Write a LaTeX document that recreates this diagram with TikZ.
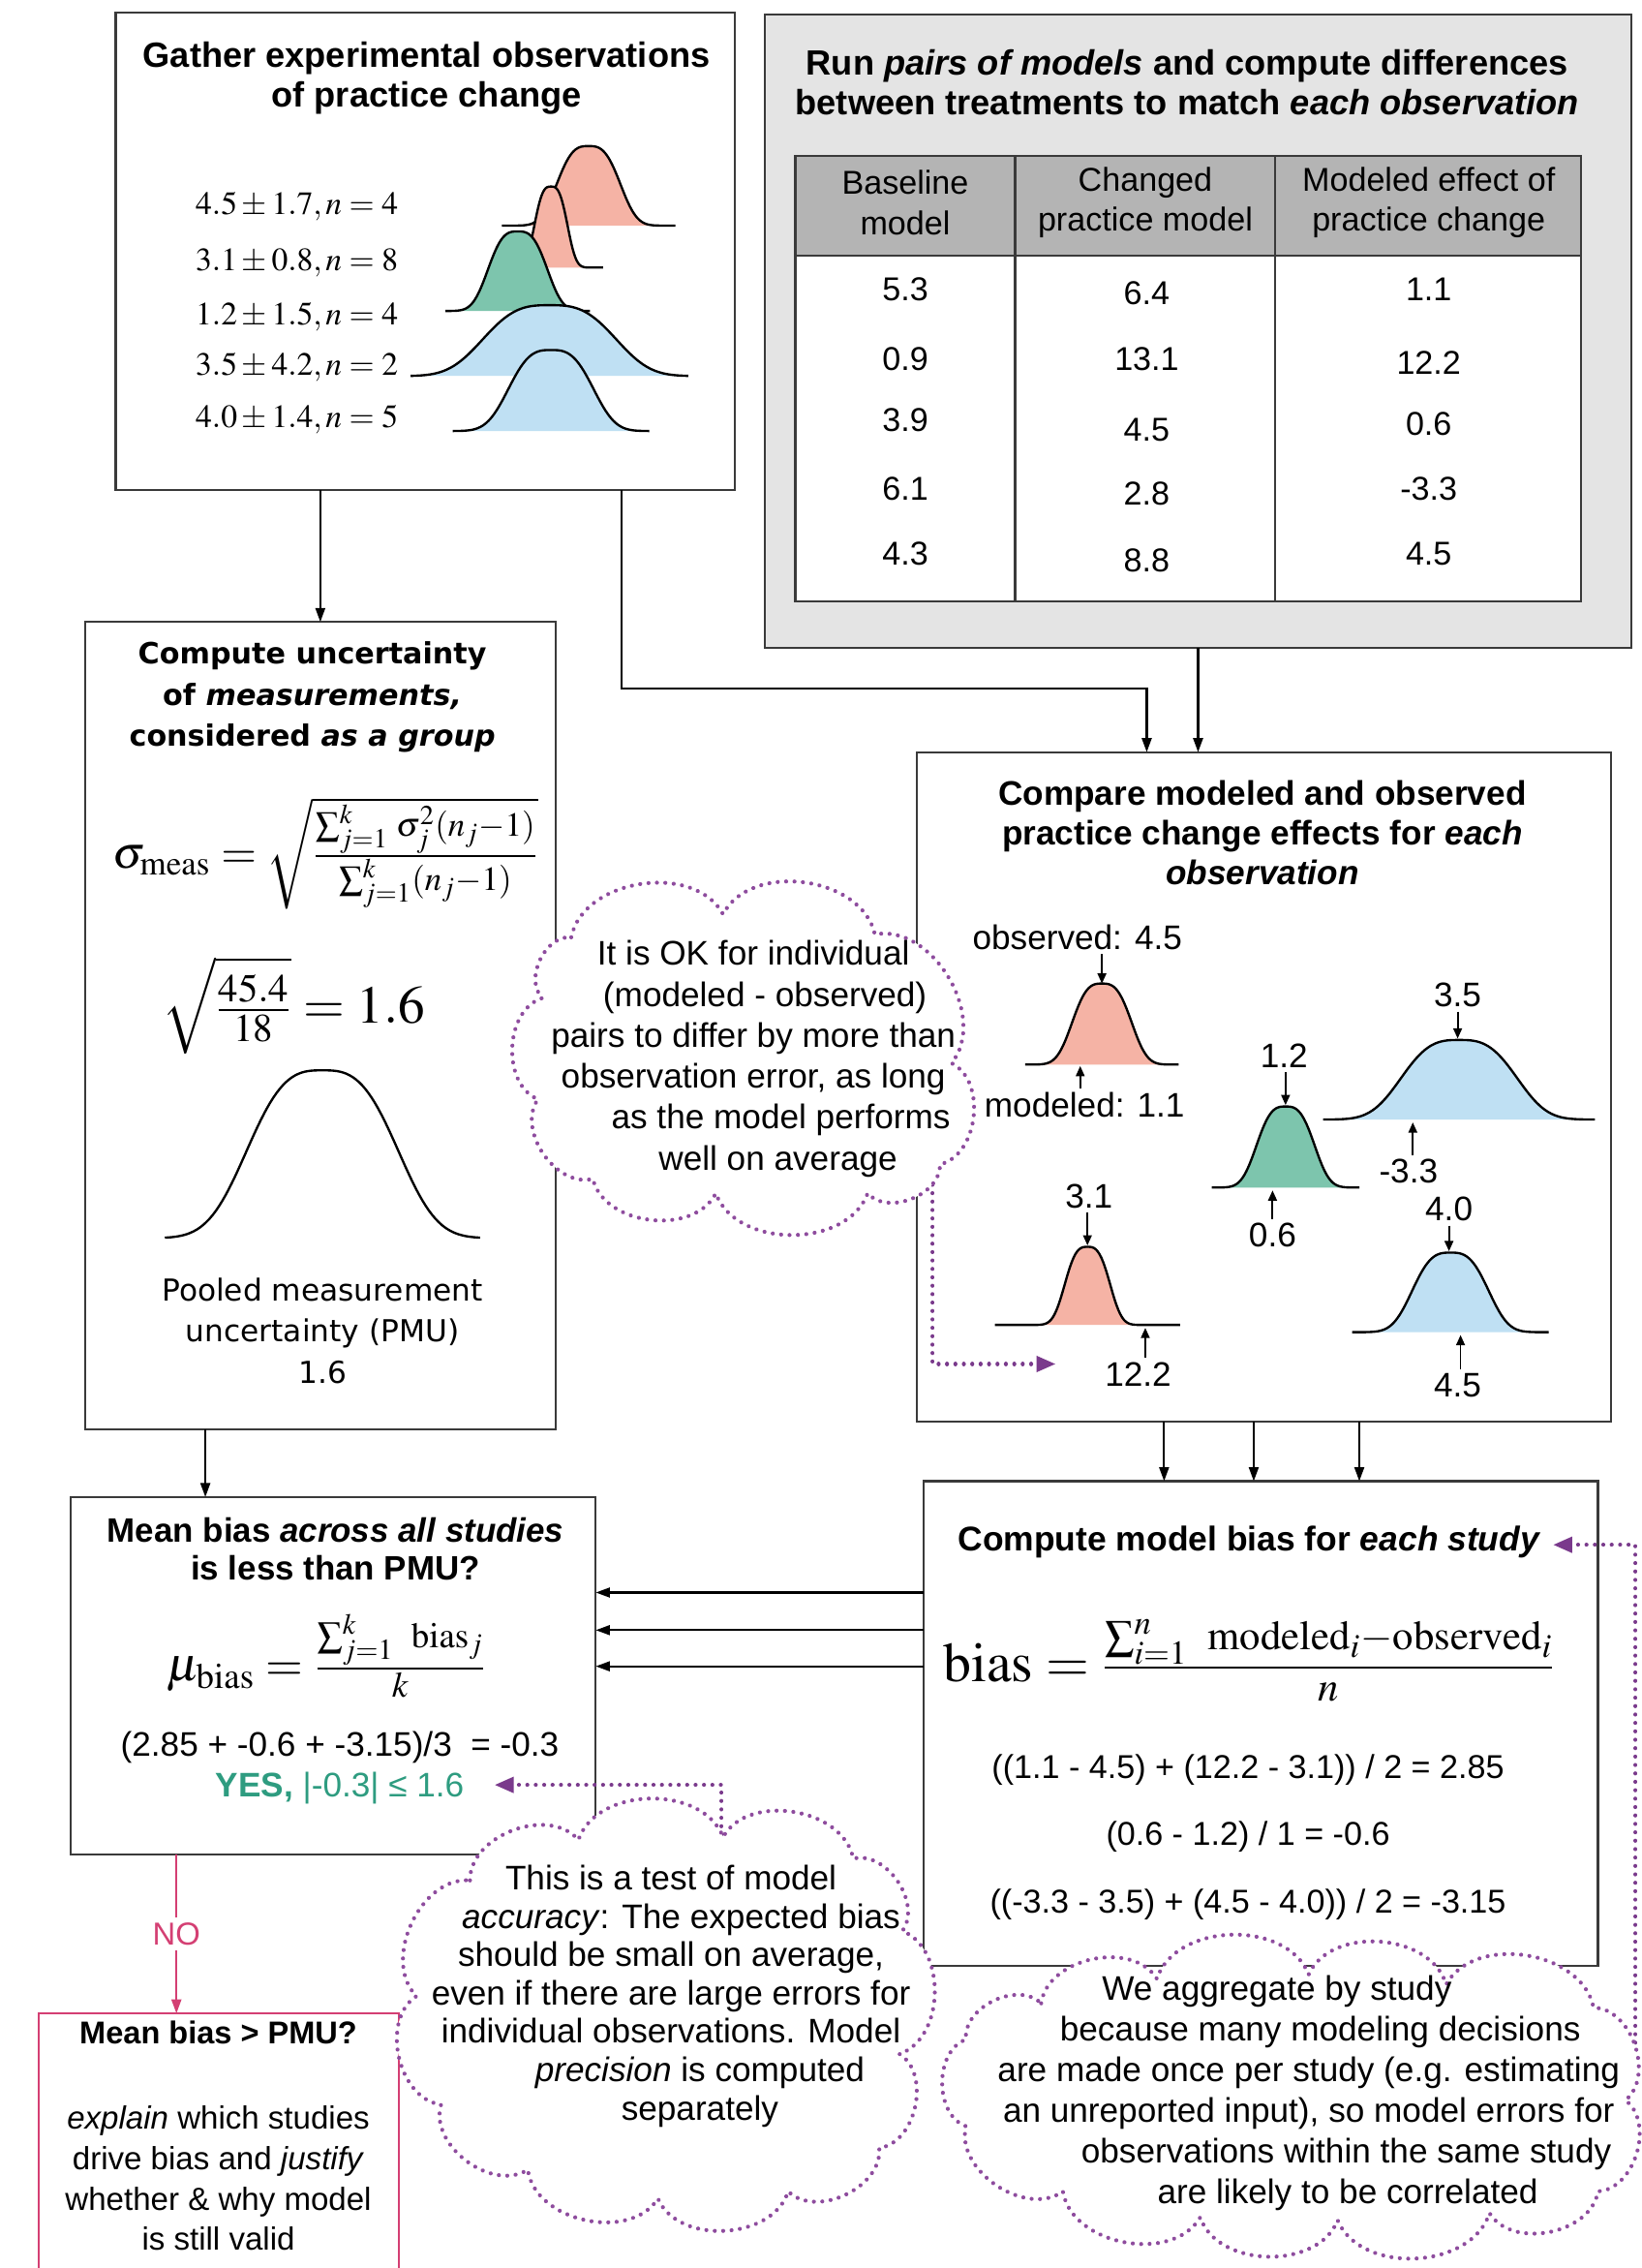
\documentclass[tikz,border=0pt]{standalone}
\usepackage{mathptmx}
\usepackage[no-math]{fontspec}
\setmainfont{Liberation Sans}
\newfontfamily\wideface{DejaVu Sans}
\usepackage{xcolor}
\usetikzlibrary{arrows.meta}
\definecolor{boxline}{HTML}{3A3A3A}
\definecolor{panelgray}{HTML}{E4E4E4}
\definecolor{headgray}{HTML}{B4B4B4}
\definecolor{obspink}{HTML}{F5B3A5}
\definecolor{obsgreen}{HTML}{7DC5AD}
\definecolor{obsblue}{HTML}{BFE0F3}
\definecolor{notepurple}{HTML}{8E4C9E}
\definecolor{tippurple}{HTML}{7A3A8C}
\definecolor{nored}{HTML}{D43F73}
\definecolor{yesgreen}{HTML}{2E9C80}
\tikzset{
  box/.style={draw=boxline,line width=0.8pt,inner sep=0pt,outer sep=0pt},
  heading/.style={font=\bfseries\fontsize{13.8}{15.6}\selectfont,align=center,inner sep=0pt},
  body/.style={font=\fontsize{13.4}{16.1}\selectfont,align=center,inner sep=0pt},
  cell/.style={font=\fontsize{13}{15.9}\selectfont,align=center,inner sep=0pt},
  reading/.style={font=\fontsize{13.4}{16}\selectfont,inner sep=1.5pt},
  formula/.style={inner sep=0pt},
  flow/.style={draw=black,line width=0.8pt,-{Triangle[length=5.5pt,width=3.8pt]}},
  tick/.style={draw=black,line width=0.7pt,-{Triangle[length=4pt,width=3.4pt]}},
  curve/.style={draw=black,line width=0.9pt},
  note/.style={draw=notepurple,fill=white,line width=1.6pt,
    dash pattern=on 0.01pt off 3.3pt,line cap=round},
  puffarc/.style={bend left=70},
  note link/.style={draw=tippurple,line width=1.6pt,dash pattern=on 0.01pt off 3.3pt,
    line cap=round,-{Triangle[length=7.5pt,width=6pt]}},
  pics/bell/.style n args={4}{code={
    \fill[#4] plot[domain=-#1:#1,samples=100]
      (\x,{-#3*exp(max(-9,-0.693*(abs(\x)/#2)*(abs(\x)/#2)*(abs(\x)/#2)))}) -- cycle;
    \draw[curve] plot[domain=-#1:#1,samples=100]
      (\x,{-#3*exp(max(-9,-0.693*(abs(\x)/#2)*(abs(\x)/#2)*(abs(\x)/#2)))});
  }}
}
\begin{document}
\begin{tikzpicture}[x=0.2mm,y=-0.2mm]
  \fill[white] (0,0) rectangle (1135,1568);
  \useasboundingbox (0,0) rectangle (1135,1568);

  \node[box,minimum width=85.6mm,minimum height=66mm] (gather) at (294,174) {};
  \node[box,fill=panelgray,minimum width=119.8mm,minimum height=87.6mm] (runs) at (828.5,229) {};
  \node[box,minimum width=65mm,minimum height=111.6mm] (pmu) at (221.5,709) {};
  \node[box,minimum width=96mm,minimum height=92.6mm] (compare) at (874,751.5) {};
  \node[box,minimum width=72.6mm,minimum height=49.4mm] (meanbias) at (230.5,1158.5) {};
  \node[box,minimum width=93.2mm,minimum height=67mm] (biasbox) at (872,1191.5) {};
  \node[box,draw=nored,minimum width=49.8mm,minimum height=38.6mm] (fix) at (151.5,1488.5) {};

  % observations
  \node[heading] (gatherT) at (295,54) {Gather experimental observations\\of practice change};
  \foreach \txt/\yy [count=\k] in {{4.5 \pm 1.7, n = 4}/143,{3.1 \pm 0.8, n = 8}/182,
      {1.2 \pm 1.5, n = 4}/219,{3.5 \pm 4.2, n = 2}/254,{4.0 \pm 1.4, n = 5}/290}
    \node[formula,anchor=west,font=\fontsize{12.8}{15}\selectfont] (obs\k) at (135,\yy) {$\txt$};
  \pic at (407,156) {bell={60}{22.5}{55}{obspink}};
  \pic at (381,185) {bell={36}{11.7}{56}{obspink}};
  \pic at (358,215) {bell={50}{21}{55}{obsgreen}};
  \pic at (380,260) {bell={96}{47}{49}{obsblue}};
  \pic at (381,298) {bell={68}{30}{56}{obsblue}};

  % model runs
  \node[heading] (runsT) at (821,57) {Run \textit{pairs of models} and compute differences\\between treatments to match \textit{each observation}};
  \draw[box,fill=headgray] (550,108) rectangle (1093,177);
  \draw[box,fill=white] (550,177) rectangle (1093,416);
  \draw[box] (702,108) -- (702,416) (882,108) -- (882,416);
  \node[cell] (hd1) at (626,140) {Baseline\\model};
  \node[cell] (hd2) at (792,140) {Changed\\practice model};
  \node[cell] (hd3) at (988,140) {Modeled effect of\\practice change};
  \foreach \val/\yy [count=\k] in {5.3/200,0.9/248,3.9/290.5,6.1/338,4.3/383}
    \node[cell] (base\k) at (626,\yy) {\val};
  \foreach \val/\yy [count=\k] in {6.4/203,13.1/248,4.5/297.5,2.8/341,8.8/387.5}
    \node[cell] (chg\k) at (793,\yy) {\val};
  \foreach \val/\yy [count=\k] in {1.1/200,12.2/251,0.6/293,-3.3/338,4.5/383}
    \node[cell] (eff\k) at (988,\yy) {\val};

  % pooled uncertainty
  \node[heading,font=\wideface\bfseries\fontsize{11.5}{16.3}\selectfont] (pmuT) at (216,482)
    {Compute uncertainty\\of \textit{measurements,}\\considered \textit{as a group}};
  \node[formula,font=\fontsize{18}{22}\selectfont] (sigmaF) at (225,590)
    {$\sigma_{\mathrm{meas}} = \sqrt{\frac{\sum_{j=1}^{k}\,\sigma_j^2(n_j-1)}{\sum_{j=1}^{k}(n_j-1)}}$};
  \node[formula,font=\fontsize{21}{25}\selectfont] (rootF) at (203,695) {$\sqrt{\frac{45.4}{18}} = 1.6$};
  \pic at (223,856) {bell={109}{53.5}{116}{white}};
  \node[body,font=\wideface\fontsize{11.9}{16.2}\selectfont] (pmuB) at (223,920)
    {Pooled measurement\\uncertainty (PMU)\\1.6};

  % comparison
  \node[heading,font=\bfseries\fontsize{13.4}{15.6}\selectfont] (compareT) at (873,576)
    {Compare modeled and observed\\practice change effects for \textit{each}\\\textit{observation}};
  \pic at (762,736) {bell={53}{21}{56}{obspink}};
  \pic at (889,821) {bell={51}{20.5}{56}{obsgreen}};
  \pic at (1009,774) {bell={94}{41}{55}{obsblue}};
  \pic at (752,916) {bell={64}{16}{54}{obspink}};
  \pic at (1003,921) {bell={68}{27}{55}{obsblue}};
  \foreach \txt/\lx/\ly/\px/\py [count=\k] in {{observed: 4.5}/745/648/762/680,1.2/888/730/889/764,
      3.5/1008/688/1008/718,3.1/753/827/752/861,4.0/1002/836/1002/865} {
    \node[reading] (up\k) at (\lx,\ly) {\txt};
    \coordinate (peak\k) at (\px,\py);
    \draw[tick] (up\k.south -| peak\k) -- (peak\k);
  }
  \foreach \txt/\lx/\ly/\px/\py [count=\k] in {{modeled: 1.1}/750/764/747/737,0.6/880/854/880/823,
      -3.3/974/810/977/776,12.2/787/950/792/918,4.5/1008/958/1010/923} {
    \node[reading] (low\k) at (\lx,\ly) {\txt};
    \coordinate (foot\k) at (\px,\py);
    \draw[tick] (low\k.north -| foot\k) -- (foot\k);
  }

  % mean bias
  \node[heading,font=\bfseries\fontsize{13.3}{15}\selectfont] (meanbiasT) at (232,1071)
    {Mean bias \textit{across all studies}\\is less than PMU?};
  \node[formula,font=\fontsize{19}{23}\selectfont] (muF) at (226,1145)
    {$\mu_{\mathrm{bias}} = \frac{\sum_{j=1}^{k}\ \mathrm{bias}_j}{k}$};
  \node[body] (avgT) at (235,1208) {(2.85 + -0.6 + -3.15)/3~ = -0.3};
  \node[body,text=yesgreen] (yesT) at (235,1236) {\textbf{YES,} |-0.3| ≤ 1.6};

  % study bias
  \node[heading,font=\bfseries\fontsize{13.5}{15.6}\selectfont] (biasT) at (864,1066)
    {Compute model bias for \textit{each study}};
  \node[formula,font=\fontsize{22}{26}\selectfont] (biasF) at (864,1148)
    {$\mathrm{bias} = \frac{\sum_{i=1}^{n}\ \mathrm{modeled}_i - \mathrm{observed}_i}{n}$};
  \node[body,font=\fontsize{13}{16}\selectfont] (calc1) at (863,1223.5) {((1.1 - 4.5) + (12.2 - 3.1)) / 2 = 2.85};
  \node[body,font=\fontsize{13}{16}\selectfont] (calc2) at (863,1269.5) {(0.6 - 1.2) / 1 = -0.6};
  \node[body,font=\fontsize{13}{16}\selectfont] (calc3) at (863,1317) {((-3.3 - 3.5) + (4.5 - 4.0)) / 2 = -3.15};

  % failing branch
  \node[heading,font=\bfseries\fontsize{12.4}{15}\selectfont] (fixT) at (151,1405.5) {Mean bias > PMU?};
  \node[body,font=\fontsize{12.6}{15.9}\selectfont] (fixB) at (151,1506)
    {\textit{explain} which studies\\drive bias and \textit{justify}\\whether \& why model\\is still valid};

  \coordinate (jA) at (430,476);
  \coordinate (jB) at (793,476);
  \coordinate (jC) at (142,0);
  \coordinate (jN) at (122,0);
  \draw[flow] (gather.south -| pmu.north) -- (pmu.north);
  \draw[flow] (jA |- gather.south) -- (jA) -| (jB |- compare.north);
  \draw[flow] (runs.south) -- (runs.south |- compare.north);
  \draw[flow] (jC |- pmu.south) -- (jC |- meanbias.north);
  \foreach \xx [count=\k] in {805,867,940} {
    \coordinate (down\k) at (\xx,0);
    \draw[flow] (down\k |- compare.south) -- (down\k |- biasbox.north);
  }
  \foreach \yy [count=\k] in {1101,1127,1152} {
    \coordinate (left\k) at (0,\yy);
    \draw[flow] (left\k -| biasbox.west) -- (left\k -| meanbias.east);
  }
  \draw[flow,draw=nored] (jN |- meanbias.south) --
    node[fill=white,inner sep=2pt,text=nored,font=\fontsize{12.5}{14}\selectfont] (noT) {NO} (jN |- fix.north);

  \coordinate (kA) at (645,790);
  \coordinate (tipA) at (730,943);
  \coordinate (kB) at (499,1280);
  \coordinate (tipB) at (342,1234);
  \coordinate (kC) at (1131,1418);
  \coordinate (tipC) at (1074,1068);
  \draw[note link] (kA) |- (tipA);
  \draw[note link] (kB) |- (tipB);
  \draw[note link] (kC) |- (tipC);

  % thought clouds
  \draw[note] (395,648) to[puffarc] (500,632) to[puffarc] (605,646) to[puffarc] (658,735)
    to[puffarc] (650,805) to[puffarc] (600,825) to[puffarc] (495,825) to[puffarc] (410,815)
    to[puffarc] (372,760) to[puffarc] (375,690) to[puffarc] (395,648) -- cycle;
  \node[body] (noteA) at (521,732) {It is OK for individual\\\hspace*{3.2mm}(modeled - observed)\\pairs to differ by more than\hspace*{2.8mm}\\observation error, as long\\\hspace*{7.6mm}as the model performs\\\hspace*{6.8mm}well on average};
  \draw[note] (325,1300) to[puffarc] (400,1272) to[puffarc] (500,1270) to[puffarc] (590,1285)
    to[puffarc] (624,1335) to[puffarc] (622,1420) to[puffarc] (608,1485) to[puffarc] (545,1515)
    to[puffarc] (455,1520) to[puffarc] (365,1500) to[puffarc] (305,1455) to[puffarc] (288,1380)
    to[puffarc] (325,1300) -- cycle;
  \node[body,font=\fontsize{13.4}{15.1}\selectfont] (noteB) at (464,1380) {This is a test of model\\\hspace*{2.8mm}\textit{accuracy}: The expected bias\\should be small on average,\\even if there are large errors for\hspace*{6mm}\\individual observations. Model\\\hspace*{8mm}\textit{precision} is computed\\\hspace*{8mm}separately};
  \draw[note] (720,1385) to[puffarc] (800,1368) to[puffarc] (905,1365) to[puffarc] (1000,1372)
    to[puffarc] (1102,1388) to[puffarc] (1124,1452) to[puffarc] (1105,1515) to[puffarc] (1030,1530)
    to[puffarc] (925,1535) to[puffarc] (830,1533) to[puffarc] (735,1515) to[puffarc] (668,1470)
    to[puffarc] (668,1410) to[puffarc] (720,1385) -- cycle;
  \node[body,font=\fontsize{13.4}{16}\selectfont] (noteC) at (905,1447) {We aggregate by study\hspace*{8.8mm}\\\hspace*{3.2mm}because many modeling decisions\\are made once per study (e.g. estimating\\an unreported input), so model errors for\hspace*{4.4mm}\\\hspace*{10.4mm}observations within the same study\\\hspace*{10.8mm}are likely to be correlated};
\end{tikzpicture}
\end{document}
